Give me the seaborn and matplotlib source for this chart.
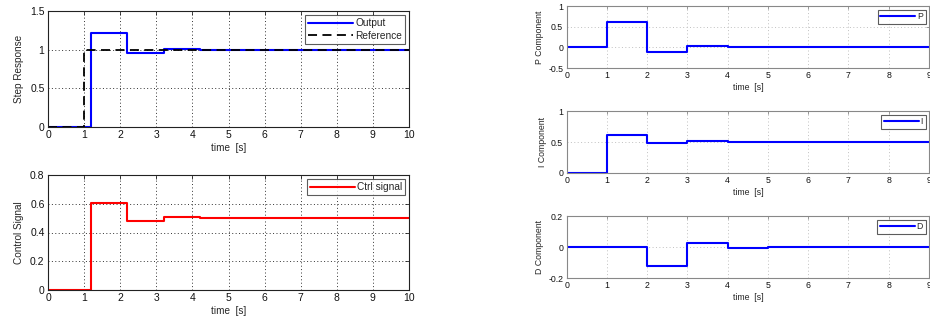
import matplotlib
matplotlib.use("Agg")
import matplotlib.pyplot as plt
import seaborn as sns

# ---- data (sample-and-hold values, held until the next breakpoint) ----
out_t = [0, 1.2, 2.2, 3.2, 4.2, 10]
out_y = [0, 1.21, 0.955, 1.015, 1.0, 1.0]
ref_t = [0, 1.0, 10]
ref_y = [0, 1.0, 1.0]
ctrl_t = [0, 1.2, 2.2, 3.2, 4.2, 10]
ctrl_y = [0, 0.605, 0.482, 0.507, 0.5, 0.5]

comp_t = [0, 1, 2, 3, 4, 5, 10]
p_y = [0, 0.61, -0.12, 0.04, 0.0, 0.0, 0.0]
i_y = [0, 0.605, 0.485, 0.515, 0.5, 0.5, 0.5]
d_y = [0, 0.0, -0.12, 0.027, -0.005, 0.0, 0.0]

left_xticks = list(range(0, 11))
right_xticks = list(range(0, 10))

sns.set_style("white")
plt.rcParams["font.family"] = ["Liberation Sans", "DejaVu Sans"]

fig = plt.figure(figsize=(9.3, 3.24), dpi=100)


def style_axes(ax, fs, spine_col, grid_col, tick_len):
    ax.tick_params(direction="in", top=True, right=True, length=tick_len,
                   width=0.6, labelsize=fs, pad=2.5, labelcolor="#111111",
                   color=spine_col)
    for s in ax.spines.values():
        s.set_color(spine_col)
        s.set_linewidth(0.8)
    ax.grid(True, linestyle=(0, (1, 2.5)), color=grid_col, linewidth=0.7)
    ax.set_axisbelow(True)


def legend(ax, fs, hl):
    leg = ax.legend(loc="upper right", fontsize=fs, handlelength=hl,
                    frameon=True, fancybox=False, borderaxespad=0.4,
                    borderpad=0.3, labelspacing=0.25, handletextpad=0.2)
    leg.get_frame().set_edgecolor("#333333")
    leg.get_frame().set_linewidth(0.8)
    return leg


# ---- left: step response ----
ax1 = fig.add_axes([48 / 930, 1 - 127 / 324, 361 / 930, 116 / 324])
sns.lineplot(x=out_t, y=out_y, ax=ax1, color="#0000ff", linewidth=1.5,
             drawstyle="steps-post", label="Output")
sns.lineplot(x=ref_t, y=ref_y, ax=ax1, color="black", linewidth=1.3,
             linestyle=(0, (5, 3)), drawstyle="steps-post", label="Reference")
ax1.set_xlim(0, 10)
ax1.set_ylim(0, 1.5)
ax1.set_xticks(left_xticks)
ax1.set_yticks([0, 0.5, 1, 1.5])
ax1.set_yticklabels(["0", "0.5", "1", "1.5"])
ax1.set_xlabel("time  [s]", fontsize=7.2, labelpad=2)
ax1.set_ylabel("Step Response", fontsize=7.2, labelpad=4)
style_axes(ax1, 7.5, "#222222", "#333333", 3)
legend(ax1, 7.3, 4.4)

# ---- left: control signal ----
ax2 = fig.add_axes([48 / 930, 1 - 290 / 324, 361 / 930, 115 / 324])
sns.lineplot(x=ctrl_t, y=ctrl_y, ax=ax2, color="#ff0000", linewidth=1.5,
             drawstyle="steps-post", label="Ctrl signal")
ax2.set_xlim(0, 10)
ax2.set_ylim(0, 0.8)
ax2.set_xticks(left_xticks)
ax2.set_yticks([0, 0.2, 0.4, 0.6, 0.8])
ax2.set_yticklabels(["0", "0.2", "0.4", "0.6", "0.8"])
ax2.set_xlabel("time  [s]", fontsize=7.2, labelpad=2)
ax2.set_ylabel("Control Signal", fontsize=7.2, labelpad=4)
style_axes(ax2, 7.5, "#222222", "#333333", 3)
legend(ax2, 7.3, 4.4)

# ---- right: PID components ----
right = [
    ("P", p_y, 6, 68, (-0.5, 1), [-0.5, 0, 0.5, 1], ["-0.5", "0", "0.5", "1"]),
    ("I", i_y, 111, 173, (0, 1), [0, 0.5, 1], ["0", "0.5", "1"]),
    ("D", d_y, 216, 278, (-0.2, 0.2), [-0.2, 0, 0.2], ["-0.2", "0", "0.2"]),
]
for name, vals, top, bot, ylim, yt, ytl in right:
    ax = fig.add_axes([566.7 / 930, 1 - bot / 324, 362.3 / 930,
                       (bot - top) / 324])
    sns.lineplot(x=comp_t, y=vals, ax=ax, color="#0000ff", linewidth=1.5,
                 drawstyle="steps-post", label=name)
    ax.set_xlim(0, 9)
    ax.set_ylim(*ylim)
    ax.set_xticks(right_xticks)
    ax.set_yticks(yt)
    ax.set_yticklabels(ytl)
    ax.set_xlabel("time  [s]", fontsize=6.3, labelpad=1.5)
    ax.set_ylabel(f"{name} Component", fontsize=6.3, labelpad=3)
    style_axes(ax, 6.3, "#888888", "#c0c0c0", 2)
    legend(ax, 6.3, 4.0)

fig.savefig("out.png", dpi=100)
